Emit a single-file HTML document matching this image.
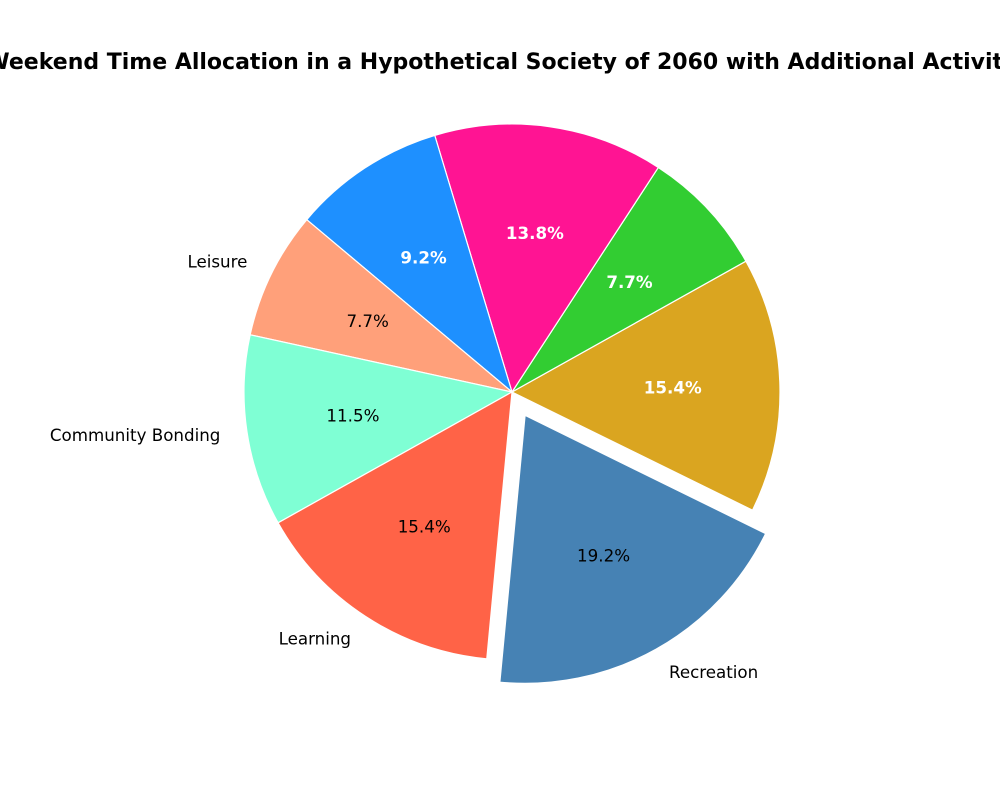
<!DOCTYPE html>
<html><head><meta charset="utf-8"><style>body{margin:0;background:#fff}svg{display:block}</style></head>
<body>
<svg id="chart" width="1000" height="800" xmlns="http://www.w3.org/2000/svg" font-family="DejaVu Sans, Liberation Sans, sans-serif">
<text x="512" y="69" text-anchor="middle" font-size="22" font-weight="bold">Weekend Time Allocation in a Hypothetical Society of 2060 with Additional Activities</text>
</svg>
<script>
const categories = ["Recreation","","","","","Leisure","Community Bonding","Learning"];
const values = [25,20,10,18,12,10,15,20];
const colors = ["#4682B4","#DAA520","#32CD32","#FF1493","#1E90FF","#FFA07A","#7FFFD4","#FF6347"];
const explode = [0.1,0,0,0,0,0,0,0];
const whiteText = [false,true,true,true,true,false,false,false];
const startAngle = 264.6;
const svg = document.getElementById('chart');
const NS = 'http://www.w3.org/2000/svg';
const cx = 512, cy = 392, R = 268;
const total = values.reduce((a,b)=>a+b,0);
let a0 = startAngle;
function pt(x,y,r,deg){const t=deg*Math.PI/180;return [x+r*Math.cos(t), y-r*Math.sin(t)];}
values.forEach((v,i)=>{
  const span = v/total*360, a1 = a0+span, mid = a0+span/2;
  const [ox,oy] = pt(cx,cy,explode[i]*R,mid);
  const [x0,y0] = pt(ox,oy,R,a0), [x1,y1] = pt(ox,oy,R,a1);
  const p = document.createElementNS(NS,'path');
  p.setAttribute('d',`M${ox},${oy} L${x0},${y0} A${R},${R} 0 ${span>180?1:0} 0 ${x1},${y1} Z`);
  p.setAttribute('fill',colors[i]); p.setAttribute('stroke','#fff'); p.setAttribute('stroke-width','1.2');
  
  
  svg.appendChild(p);
  const [tx,ty] = pt(ox,oy,R*0.6,mid);
  const t = document.createElementNS(NS,'text');
  t.setAttribute('x',tx); t.setAttribute('y',ty+6); t.setAttribute('text-anchor','middle'); t.setAttribute('font-size','16.7');
  t.setAttribute('fill', whiteText[i]?'#fff':'#000');
  if(whiteText[i]) t.setAttribute('font-weight','bold');
  t.textContent = (v/total*100).toFixed(1)+'%';
  
  
  svg.appendChild(t);
  if(categories[i]){
    const [lx,ly] = pt(ox,oy,R*1.1,mid);
    const l = document.createElementNS(NS,'text');
    l.setAttribute('x',lx); l.setAttribute('y',ly+5.5); l.setAttribute('font-size','16.7');
    l.setAttribute('text-anchor', Math.cos(mid*Math.PI/180)<0?'end':'start');
    l.textContent = categories[i];
    
    
    svg.appendChild(l);
  }
  a0 = a1;
});
</script>
</body></html>
